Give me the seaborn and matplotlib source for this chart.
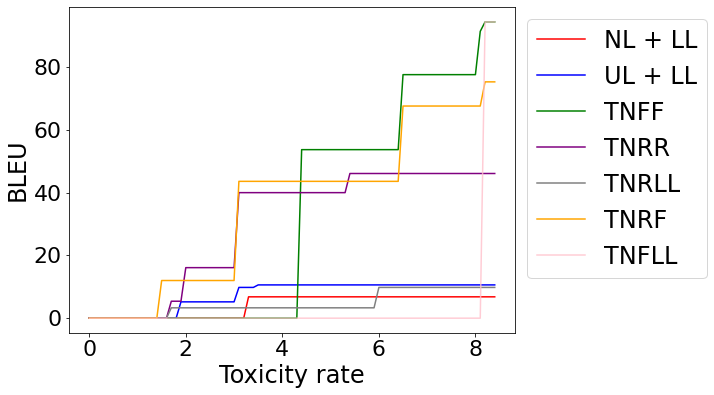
import pandas as pd
import matplotlib
matplotlib.use("Agg")
import matplotlib.pyplot as plt
import seaborn as sns

# Breakpoints (x = toxicity rate, y = BLEU)
labels = ["NL + LL", "UL + LL", "TNFF", "TNRR", "TNRLL", "TNRF", "TNFLL"]
colors = ["red", "blue", "green", "purple", "gray", "orange", "pink"]

nl_ll_x = [0, 3.2, 3.3, 8.4]
nl_ll_y = [0, 0, 6.8, 6.8]

ul_ll_x = [0, 1.8, 1.9, 3.0, 3.1, 3.4, 3.5, 8.4]
ul_ll_y = [0, 0, 5.2, 5.2, 9.8, 9.8, 10.6, 10.6]

tnff_x = [0, 4.3, 4.4, 6.4, 6.5, 8.0, 8.1, 8.2, 8.4]
tnff_y = [0, 0, 53.7, 53.7, 77.6, 77.6, 91.4, 94.4, 94.4]

tnrr_x = [0, 1.6, 1.7, 1.9, 2.0, 3.0, 3.1, 5.3, 5.4, 8.4]
tnrr_y = [0, 0, 5.4, 5.4, 16.1, 16.1, 40.0, 40.0, 46.1, 46.1]

tnrll_x = [0, 1.6, 1.7, 5.9, 6.0, 8.4]
tnrll_y = [0, 0, 3.3, 3.3, 9.8, 9.8]

tnrf_x = [0, 1.4, 1.5, 3.0, 3.1, 6.4, 6.5, 8.1, 8.2, 8.4]
tnrf_y = [0, 0, 12.0, 12.0, 43.6, 43.6, 67.6, 67.6, 75.3, 75.3]

tnfll_x = [0, 8.1, 8.2, 8.4]
tnfll_y = [0, 0, 94.4, 94.4]

series = [
    (nl_ll_x, nl_ll_y), (ul_ll_x, ul_ll_y), (tnff_x, tnff_y), (tnrr_x, tnrr_y),
    (tnrll_x, tnrll_y), (tnrf_x, tnrf_y), (tnfll_x, tnfll_y),
]

# long-format table for seaborn
rows = []
for name, (xs, ys) in zip(labels, series):
    for x, y in zip(xs, ys):
        rows.append({"model": name, "x": x, "y": y})
df = pd.DataFrame(rows)

plt.rcParams["font.size"] = 22

fig = plt.figure(figsize=(714 / 72, 395 / 72), dpi=72)
ax = fig.add_subplot(111)
fig.subplots_adjust(left=0.0966, right=0.7213, top=0.982, bottom=0.157)

sns.lineplot(data=df, x="x", y="y", hue="model", hue_order=labels,
             palette=dict(zip(labels, colors)), linewidth=1.5,
             estimator=None, sort=False, ax=ax)
# last line (pink) is a bit see-through in the original
ax.lines[len(labels) - 1].set_alpha(0.8)

ax.set_xlabel("Toxicity rate", fontsize=24)
ax.set_ylabel("BLEU", fontsize=24)
ax.tick_params(labelsize=22)
ax.set_xticks([0, 2, 4, 6, 8])
ax.set_yticks([0, 20, 40, 60, 80])

handles, labs = ax.get_legend_handles_labels()
handles[-1].set_alpha(0.8)
ax.legend(handles, labs, loc="upper left", bbox_to_anchor=(1, 1), fontsize=24)

plt.savefig("out.png", dpi=72)
